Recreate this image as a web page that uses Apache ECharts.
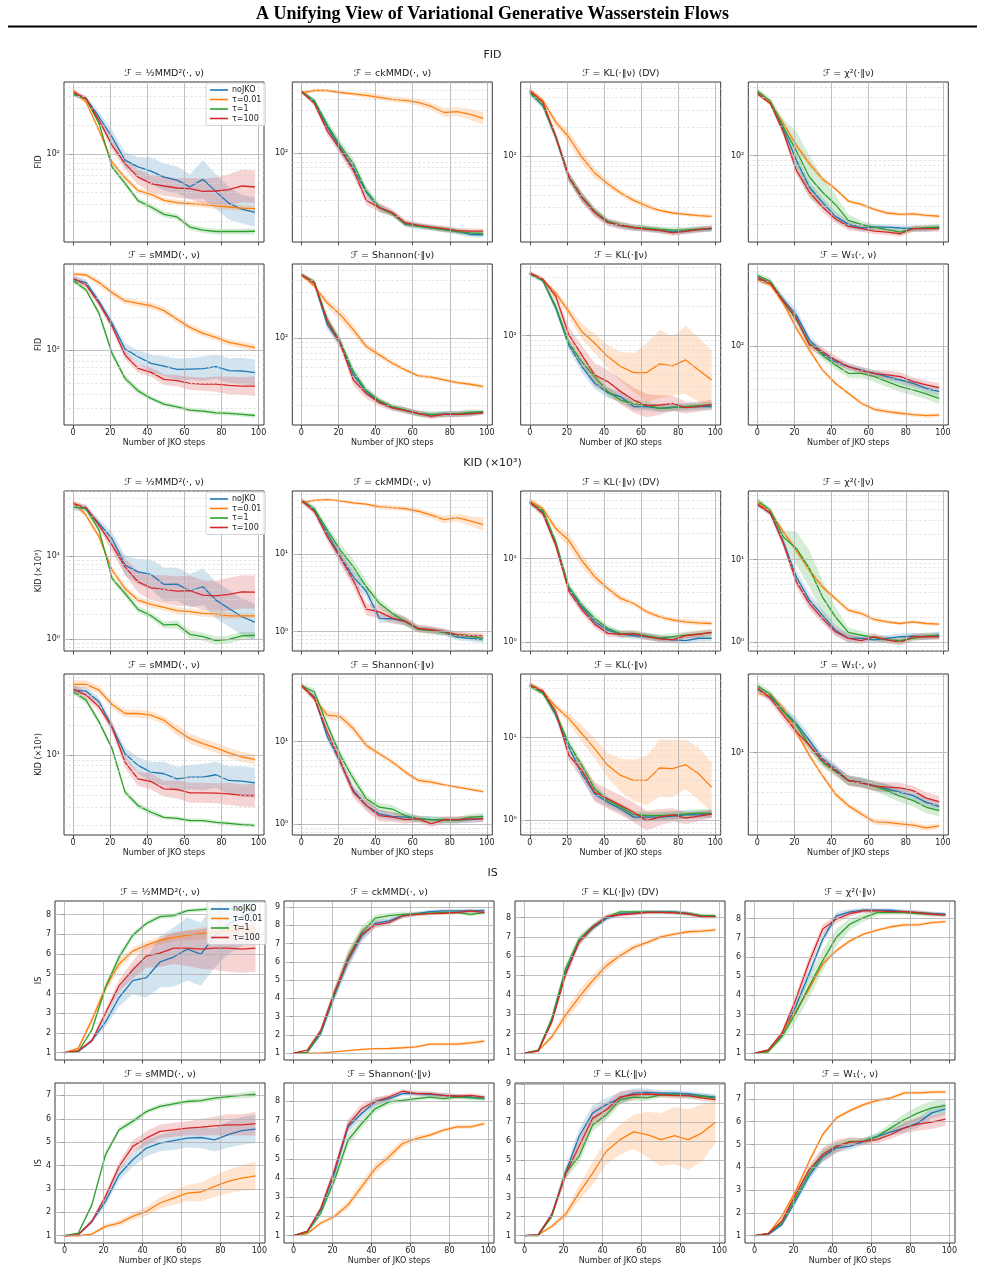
<!DOCTYPE html>
<html>
<head>
<meta charset="utf-8">
<script src="https://cdn.jsdelivr.net/npm/echarts@6/dist/echarts.min.js"></script>
<style>
  html, body { margin: 0; padding: 0; background: #fff; }
  #chart { width: 985px; height: 1272px; }
</style>
</head>
<body>
<div id="chart"></div>
<script>
// ---- shared ----
const steps = [0, 7, 14, 21, 28, 35, 42, 49, 56, 63, 70, 77, 84, 91, 98];
const runNames = ['noJKO', 'τ=0.01', 'τ=1', 'τ=100'];
const runColors = ['#1f77b4', '#ff7f0e', '#2ca02c', '#d62728'];
const bandColors = ['rgba(31,119,180,0.2)', 'rgba(255,127,14,0.2)', 'rgba(44,160,44,0.2)', 'rgba(214,39,40,0.2)'];
const panelTitles = [
  'ℱ = ½MMD²(·, ν)', 'ℱ = ckMMD(·, ν)', 'ℱ = KL(·‖ν) (DV)', 'ℱ = χ²(·‖ν)',
  'ℱ = sMMD(·, ν)', 'ℱ = Shannon(·‖ν)', 'ℱ = KL(·‖ν)', 'ℱ = W₁(·, ν)',
];
const xTicks = [0, 20, 40, 60, 80, 100];
const logMajor = [1, 10, 100];
const logMinor = [0.6, 0.7, 0.8, 0.9, 2, 3, 4, 5, 6, 7, 8, 9, 20, 30, 40, 50, 60, 70, 80, 90, 200, 300, 400, 500, 600];
const isTicks = [1, 2, 3, 4, 5, 6, 7, 8, 9];

// ---- FID (rows: noJKO, tau=0.01, tau=1, tau=100) ----
const fidMmd2 = [
  [427, 378, 244, 151, 87, 74, 67, 58, 54, 46, 55, 41, 31, 27, 25],
  [462, 349, 177, 83, 57, 42, 38.5, 33.3, 31.5, 30.7, 30, 29.1, 28.4, 27.7, 27.3],
  [420, 378, 208, 74, 50, 33, 28.4, 23.8, 22.4, 17.6, 16.3, 15.8, 15.8, 15.8, 15.9],
  [443, 378, 225, 124, 80, 58, 49.6, 46.9, 44.7, 44.1, 41.3, 41.6, 42.9, 46.9, 45.8],
];
const fidCk = [
  [483, 370, 195, 114, 68, 37, 25, 21.6, 16.4, 15.6, 14.9, 14.3, 13.6, 12.6, 12.5],
  [467, 496, 496, 471, 455, 439, 417, 396, 386, 366, 330, 283, 290, 270, 244],
  [483, 383, 205, 120, 77, 38, 25, 21.4, 16.6, 15.6, 14.9, 14.3, 13.6, 13.1, 12.9],
  [483, 357, 176, 110, 65, 30, 25, 22, 17, 16, 15.2, 14.6, 13.9, 13.7, 13.7],
];
const fidKlDv = [
  [451, 334, 158, 61.4, 38.2, 26.8, 21.1, 19.4, 18.5, 18.1, 17.4, 16.8, 17.2, 17.7, 17.9],
  [477, 376, 225, 158, 98.5, 67.4, 52.4, 42, 35.3, 30.9, 27.9, 26.2, 25.4, 24.6, 24.2],
  [451, 334, 158, 61.4, 38.5, 27.2, 21.5, 19.8, 18.6, 18.3, 17.8, 17.5, 17.6, 17.9, 18.2],
  [469, 361, 160, 62, 38, 26.5, 21, 19.6, 18.6, 17.8, 17.4, 16.4, 17, 17.7, 18.3],
];
const fidChi2 = [
  [443, 351, 189, 89.6, 47.7, 33.4, 23.8, 19.7, 18.2, 18.5, 18.5, 18.1, 17.8, 17.8, 18.5],
  [462, 351, 213, 128, 82.8, 58.1, 45.8, 34.2, 31.6, 28.1, 25.8, 25, 25.3, 24.4, 23.9],
  [462, 365, 197, 112, 60.4, 42.4, 31.6, 21.7, 19.7, 18.5, 17.4, 16.4, 17.8, 18.2, 18.5],
  [433, 342, 175, 70.7, 42.4, 29.7, 22.5, 18.8, 17.8, 16.8, 16.4, 15.8, 17.8, 17.8, 17.8],
];
const fidSmmd = [
  [443, 414, 278, 176, 103, 87.5, 76.1, 72, 67.1, 67.6, 68.1, 71, 65.3, 64.9, 62.6],
  [497, 486, 414, 336, 282, 268, 255, 230, 192, 162, 143, 131, 118, 112, 106],
  [432, 355, 217, 93.9, 55.6, 42.8, 36.5, 32.4, 30.6, 28.6, 28, 27, 26.7, 26.1, 25.5],
  [454, 394, 268, 167, 90.6, 68.5, 63, 54.4, 52.9, 50, 49.3, 49.3, 48, 47.3, 47.3],
];
const fidShannon = [
  [454, 372, 137, 88.7, 41.6, 27.9, 22, 19.1, 18, 16.6, 16, 16.4, 16.4, 16.6, 16.9],
  [454, 344, 231, 175, 122, 81.9, 67.1, 55, 46.9, 40.6, 39.4, 36.9, 34.6, 33.3, 31.5],
  [454, 380, 155, 90, 45.1, 28.5, 22.5, 19.5, 18, 16.4, 16.2, 16.2, 16.4, 17, 17.3],
  [454, 372, 149, 88, 36.9, 26.5, 21.5, 19, 17.8, 16.6, 15.5, 16.2, 16.2, 16.4, 16.8],
];
const fidKl = [
  [430, 367, 191, 80.1, 48.1, 32.4, 25.9, 23.6, 18.7, 18.7, 17.9, 18.4, 18.4, 18.7, 18.7],
  [437, 373, 272, 176, 110, 83.4, 60.8, 48.1, 41.7, 41.7, 51.2, 48.8, 56.2, 44.4, 35.1],
  [430, 367, 199, 83.4, 54.1, 37.9, 26.6, 21.8, 19.9, 19.4, 17.9, 18.2, 18.7, 19.1, 19.4],
  [437, 379, 252, 102, 63.3, 39.4, 33.7, 26.6, 21.8, 19.1, 19.4, 20.2, 18.2, 18.7, 19.7],
];
const fidW1 = [
  [419, 385, 269, 195, 115, 86, 72.1, 64.7, 60.3, 56.1, 52.2, 48.6, 45.3, 40.7, 37.9],
  [413, 371, 251, 147, 92.5, 60.3, 45.3, 36.6, 29.6, 26, 24.7, 23.9, 23.2, 22.7, 23],
  [453, 399, 260, 176, 107, 83.1, 67.1, 56.1, 56.1, 52.2, 47, 42.2, 39.3, 36.1, 32.9],
  [435, 385, 260, 182, 103, 89.2, 74.6, 64.7, 59.4, 56.1, 54.2, 52.2, 47, 43.7, 41.3],
];
// band half-widths, log10 units
const fidMmd2Sd = [
  [.03, .03, .05, .07, .08, .1, .14, .14, .14, .13, .2, .18, .17, .15, .15],
  [.03, .02, .02, .03, .03, .03, .03, .03, .03, .03, .03, .03, .03, .03, .03],
  [.02, .02, .02, .03, .03, .03, .03, .03, .03, .03, .03, .03, .03, .03, .03],
  [.03, .02, .03, .05, .06, .08, .09, .1, .1, .11, .13, .14, .16, .17, .17],
];
const fidCkSd = [
  [.02, .03, .05, .06, .06, .05, .04, .03, .03, .03, .03, .03, .03, .03, .03],
  [.02, .02, .02, .02, .02, .03, .03, .03, .03, .04, .04, .05, .05, .06, .07],
  [.02, .03, .05, .06, .06, .05, .04, .03, .03, .03, .03, .03, .03, .03, .03],
  [.02, .03, .05, .06, .06, .05, .05, .04, .04, .03, .03, .03, .03, .03, .03],
];
const fidKlDvSd = [
  [.03, .03, .04, .05, .05, .04, .03, .03, .03, .03, .03, .03, .03, .03, .03],
  [.03, .03, .04, .06, .07, .05, .04, .03, .03, .03, .02, .02, .02, .02, .02],
  [.03, .03, .04, .05, .05, .04, .03, .03, .03, .03, .03, .03, .03, .03, .03],
  [.03, .03, .04, .05, .05, .05, .04, .04, .03, .03, .03, .03, .03, .03, .03],
];
const fidChi2Sd = [
  [.02, .02, .04, .06, .06, .05, .05, .04, .04, .03, .03, .03, .03, .03, .03],
  [.02, .02, .03, .03, .03, .03, .02, .02, .02, .02, .02, .02, .02, .02, .02],
  [.03, .03, .08, .2, .22, .15, .1, .06, .04, .03, .03, .03, .03, .03, .03],
  [.02, .02, .04, .05, .05, .05, .04, .04, .03, .03, .03, .03, .03, .03, .03],
];
const fidSmmdSd = [
  [.03, .03, .03, .04, .05, .06, .08, .09, .1, .1, .11, .11, .11, .12, .12],
  [.02, .02, .03, .03, .03, .03, .03, .03, .03, .03, .03, .03, .03, .03, .03],
  [.02, .02, .03, .03, .03, .03, .02, .02, .02, .02, .02, .02, .02, .02, .02],
  [.03, .03, .03, .04, .04, .04, .04, .05, .05, .06, .06, .07, .08, .08, .09],
];
const fidShannonSd = [
  [.02, .03, .05, .05, .05, .04, .03, .03, .03, .03, .03, .03, .03, .03, .02],
  [.02, .02, .04, .06, .05, .04, .03, .03, .02, .02, .02, .02, .02, .02, .02],
  [.02, .03, .05, .05, .05, .04, .03, .03, .03, .03, .03, .03, .03, .03, .02],
  [.02, .03, .05, .05, .06, .05, .04, .03, .03, .03, .03, .03, .03, .03, .02],
];
const fidKlSd = [
  [.02, .02, .04, .05, .06, .06, .05, .05, .04, .04, .04, .04, .04, .04, .04],
  [.02, .02, .03, .05, .08, .1, .12, .15, .2, .3, .35, .3, .35, .33, .3],
  [.02, .02, .04, .05, .05, .05, .05, .04, .04, .04, .03, .03, .03, .03, .03],
  [.02, .02, .05, .08, .1, .12, .12, .13, .13, .12, .1, .08, .06, .05, .05],
];
const fidW1Sd = [
  [.03, .03, .04, .05, .04, .04, .03, .03, .03, .03, .03, .04, .04, .04, .04],
  [.02, .02, .03, .03, .03, .02, .02, .02, .02, .02, .02, .02, .02, .02, .02],
  [.03, .03, .04, .04, .04, .04, .04, .04, .04, .05, .05, .05, .05, .05, .05],
  [.02, .02, .03, .04, .04, .04, .04, .03, .03, .03, .04, .04, .04, .04, .04],
];
const fidRanges = [[12.3, 563], [10.4, 616], [13.2, 580], [13.0, 571], [20.9, 612], [12.6, 586], [12.1, 541], [18.6, 578]];

// ---- KID (x10^3) ----
const kidMmd2 = [
  [39.8, 37.3, 24.7, 16.3, 7.8, 6.49, 6.03, 4.57, 4.61, 3.84, 4.29, 2.96, 2.35, 1.87, 1.61],
  [44.9, 31, 17.1, 6.79, 4.09, 2.96, 2.63, 2.42, 2.21, 2.15, 2.05, 2.01, 1.92, 1.92, 1.92],
  [39.1, 37.3, 20.5, 5.4, 3.56, 2.29, 1.92, 1.49, 1.51, 1.15, 1.08, 0.964, 1.0, 1.1, 1.12],
  [42.9, 38.4, 23.5, 13.6, 7.45, 4.92, 4.17, 3.98, 3.8, 3.84, 3.4, 3.34, 3.47, 3.73, 3.7],
];
const kidCk = [
  [49.5, 36.9, 18.5, 9.25, 5.1, 3.3, 1.49, 1.47, 1.35, 1.1, 1.05, 0.98, 0.85, 0.82, 0.79],
  [46.3, 49.5, 50.6, 48.6, 45.8, 44.1, 40.7, 39.9, 38.7, 35.8, 31.8, 27.9, 29.6, 26.8, 24.1],
  [49.5, 38.5, 20.4, 11.3, 6.87, 3.8, 2.32, 1.73, 1.35, 1.07, 1.03, 0.98, 0.9, 0.87, 0.82],
  [49.5, 35.5, 16.7, 9.0, 4.6, 1.95, 1.8, 1.5, 1.37, 1.1, 1.06, 1.0, 0.92, 0.89, 0.89],
];
const kidKlDv = [
  [46.4, 35.9, 15.1, 4.4, 2.66, 1.76, 1.4, 1.26, 1.2, 1.17, 1.12, 1.07, 1.05, 1.12, 1.12],
  [49.4, 39.4, 22.8, 16.5, 9.55, 6.06, 4.4, 3.34, 2.91, 2.32, 2.02, 1.85, 1.76, 1.71, 1.68],
  [46.4, 37.6, 15.8, 4.6, 2.78, 1.93, 1.47, 1.26, 1.28, 1.2, 1.12, 1.17, 1.22, 1.26, 1.3],
  [47.3, 34.4, 14.4, 4.12, 2.47, 1.65, 1.28, 1.25, 1.26, 1.17, 1.1, 1.07, 1.2, 1.25, 1.32],
];
const kidChi2 = [
  [47.3, 35.8, 16.3, 6.18, 3.24, 2.13, 1.41, 1.12, 1.12, 1.07, 1.12, 1.17, 1.19, 1.17, 1.23],
  [48.7, 37.5, 21.5, 12.9, 7.43, 4.69, 3.39, 2.45, 2.23, 1.89, 1.77, 1.69, 1.77, 1.69, 1.66],
  [51.9, 39.3, 18.7, 13.6, 7.8, 3.55, 2.04, 1.32, 1.22, 1.14, 1.07, 1.05, 1.12, 1.2, 1.2],
  [46, 36.5, 15.6, 5.38, 2.95, 1.95, 1.35, 1.12, 1.05, 1.17, 1.07, 1.0, 1.17, 1.17, 1.17],
];
const kidSmmd = [
  [44.9, 43.9, 34.3, 19.2, 10.4, 7.94, 6.81, 6.55, 5.83, 6.06, 6.06, 6.4, 5.61, 5.52, 5.32],
  [51.2, 51.2, 44.9, 32.2, 26.2, 26.2, 25.2, 22.4, 17.8, 14.7, 13.1, 11.9, 10.6, 9.63, 9.12],
  [43.2, 35.6, 21.6, 11.7, 4.29, 3.15, 2.7, 2.4, 2.35, 2.23, 2.23, 2.14, 2.09, 2.03, 1.99],
  [45.9, 40, 30.5, 19.2, 8.57, 5.83, 5.48, 4.63, 4.56, 4.22, 4.22, 4.19, 4.12, 3.97, 3.97],
];
const kidShannon = [
  [47.4, 34.9, 11.4, 5.66, 2.57, 1.69, 1.34, 1.25, 1.22, 1.16, 1.14, 1.12, 1.12, 1.14, 1.18],
  [47.4, 33.3, 20.9, 20, 14.4, 9.02, 7.14, 5.66, 4.28, 3.39, 3.24, 3.0, 2.81, 2.64, 2.49],
  [47.4, 40.1, 15.8, 6.82, 3.56, 2.03, 1.61, 1.53, 1.27, 1.16, 1.14, 1.12, 1.12, 1.22, 1.25],
  [48.3, 33.3, 13.1, 5.66, 2.45, 1.69, 1.27, 1.22, 1.14, 1.16, 1.01, 1.14, 1.14, 1.16, 1.16],
];
const kidKl = [
  [43.5, 36.1, 18.7, 7.69, 3.64, 2.07, 1.64, 1.36, 1.08, 1.08, 1.08, 1.11, 1.15, 1.15, 1.18],
  [44.3, 36.7, 23.7, 17.1, 11.2, 7.35, 4.6, 3.47, 3.02, 3.02, 4.27, 4.19, 4.69, 3.64, 2.5],
  [42.7, 34.4, 19.6, 8.45, 4.6, 2.39, 1.72, 1.43, 1.16, 1.13, 1.13, 1.15, 1.18, 1.21, 1.21],
  [43.5, 36.7, 20.6, 6.1, 4.0, 2.17, 1.8, 1.5, 1.24, 0.98, 1.08, 1.15, 1.05, 1.11, 1.18],
];
const kidW1 = [
  [44.5, 37.2, 27.1, 19.8, 13.4, 8.69, 6.85, 5.21, 5.01, 4.63, 4.28, 3.95, 3.65, 3.12, 2.84],
  [40.2, 38.6, 28.3, 16.3, 9.4, 5.86, 3.8, 2.89, 2.37, 1.98, 1.95, 1.88, 1.83, 1.71, 1.8],
  [48.2, 39.3, 26.1, 19.1, 11.9, 8.02, 6.44, 5.21, 4.93, 4.56, 4.11, 3.6, 3.25, 2.78, 2.57],
  [45.9, 35.7, 24.1, 16.3, 11.9, 8.36, 6.6, 5.21, 4.93, 4.56, 4.45, 4.38, 4.11, 3.44, 3.18],
];
const kidMmd2Sd = [
  [.05, .04, .05, .08, .12, .15, .18, .2, .2, .2, .22, .22, .22, .22, .22],
  [.03, .03, .04, .04, .04, .04, .04, .04, .04, .04, .04, .04, .04, .03, .03],
  [.02, .03, .03, .04, .04, .04, .04, .04, .05, .05, .05, .05, .05, .05, .04],
  [.03, .03, .04, .08, .1, .13, .15, .17, .18, .18, .18, .18, .2, .2, .2],
];
const kidCkSd = [
  [.03, .04, .06, .08, .09, .08, .06, .05, .05, .04, .04, .04, .04, .04, .04],
  [.02, .02, .02, .02, .02, .02, .03, .03, .03, .04, .04, .05, .05, .06, .08],
  [.03, .04, .06, .08, .09, .08, .06, .05, .05, .04, .04, .04, .04, .04, .04],
  [.03, .04, .06, .08, .09, .08, .08, .07, .06, .05, .05, .04, .04, .04, .04],
];
const kidKlDvSd = [
  [.03, .04, .05, .05, .05, .05, .04, .04, .04, .04, .04, .04, .04, .04, .04],
  [.03, .04, .05, .08, .08, .06, .04, .04, .03, .03, .03, .03, .03, .03, .03],
  [.03, .04, .05, .05, .05, .05, .04, .04, .04, .04, .04, .04, .04, .04, .04],
  [.03, .04, .05, .05, .05, .05, .04, .04, .04, .04, .04, .04, .04, .04, .04],
];
const kidChi2Sd = [
  [.03, .03, .05, .08, .08, .07, .06, .05, .05, .04, .04, .04, .04, .04, .04],
  [.02, .02, .03, .04, .04, .03, .03, .03, .03, .03, .02, .02, .02, .02, .02],
  [.03, .03, .08, .2, .22, .2, .12, .06, .05, .04, .04, .04, .04, .04, .04],
  [.03, .03, .05, .07, .07, .06, .05, .05, .04, .04, .04, .04, .04, .04, .04],
];
const kidSmmdSd = [
  [.04, .04, .04, .05, .06, .08, .1, .12, .12, .12, .13, .13, .14, .15, .15],
  [.04, .04, .04, .04, .04, .04, .04, .04, .05, .05, .05, .05, .05, .05, .05],
  [.03, .03, .03, .03, .03, .03, .03, .02, .02, .02, .02, .02, .02, .02, .02],
  [.04, .04, .04, .05, .06, .07, .08, .08, .09, .1, .1, .1, .11, .11, .12],
];
const kidShannonSd = [
  [.03, .04, .05, .06, .06, .05, .05, .05, .05, .04, .04, .04, .04, .04, .04],
  [.02, .03, .05, .05, .05, .04, .03, .03, .03, .03, .03, .02, .02, .02, .02],
  [.03, .04, .05, .06, .06, .05, .05, .05, .05, .04, .04, .04, .04, .04, .04],
  [.03, .04, .05, .06, .07, .07, .07, .06, .05, .04, .04, .04, .04, .04, .04],
];
const kidKlSd = [
  [.03, .03, .05, .06, .07, .07, .06, .05, .05, .05, .05, .05, .05, .05, .05],
  [.03, .03, .04, .06, .1, .12, .15, .2, .25, .3, .35, .35, .3, .32, .3],
  [.03, .03, .05, .06, .06, .06, .05, .05, .05, .05, .05, .05, .05, .05, .05],
  [.03, .03, .05, .07, .1, .12, .12, .12, .12, .12, .1, .08, .07, .06, .05],
];
const kidW1Sd = [
  [.04, .04, .05, .06, .06, .05, .05, .05, .05, .05, .05, .05, .05, .05, .05],
  [.03, .03, .03, .03, .03, .03, .03, .03, .03, .03, .03, .03, .03, .03, .03],
  [.04, .04, .05, .05, .05, .05, .05, .05, .05, .05, .06, .06, .06, .06, .06],
  [.03, .04, .05, .05, .05, .05, .05, .05, .05, .05, .05, .05, .05, .06, .06],
];
const kidRanges = [[0.724, 60.8], [0.564, 65.3], [0.789, 64], [0.787, 67.1], [1.6, 65], [0.742, 65.8], [0.656, 59.2], [1.45, 63.4]];

// ---- IS ----
const isMmd2 = [
  [1, 1.05, 1.62, 2.55, 3.8, 4.65, 4.8, 5.6, 5.85, 6.25, 6.0, 6.9, 7.5, 7.9, 8.2],
  [1, 1.22, 2.65, 4.3, 5.5, 6.15, 6.45, 6.7, 6.85, 6.95, 7.05, 7.1, 7.2, 7.25, 7.3],
  [1, 1.05, 2.15, 4.3, 5.85, 6.95, 7.55, 7.9, 7.95, 8.2, 8.25, 8.3, 8.3, 8.3, 8.28],
  [1, 1.1, 1.6, 3.0, 4.4, 5.2, 5.9, 6.05, 6.3, 6.3, 6.25, 6.3, 6.3, 6.25, 6.3],
];
const isCk = [
  [1, 1.04, 2.07, 4.16, 6.06, 7.42, 8.1, 8.24, 8.51, 8.64, 8.75, 8.79, 8.79, 8.79, 8.82],
  [1, 1, 1, 1.07, 1.13, 1.2, 1.24, 1.25, 1.29, 1.34, 1.49, 1.49, 1.49, 1.56, 1.65],
  [1, 1.02, 2.16, 4.25, 6.24, 7.61, 8.39, 8.53, 8.6, 8.62, 8.66, 8.7, 8.7, 8.6, 8.7],
  [1, 1.16, 2.25, 4.34, 6.15, 7.52, 8.02, 8.15, 8.51, 8.6, 8.64, 8.66, 8.7, 8.79, 8.7],
];
const isKlDv = [
  [1, 1.12, 2.7, 5.18, 6.75, 7.45, 7.95, 8.2, 8.25, 8.3, 8.3, 8.3, 8.22, 8.08, 8.05],
  [1, 1.12, 1.84, 2.95, 3.89, 4.75, 5.52, 6.03, 6.46, 6.72, 7.01, 7.15, 7.27, 7.3, 7.37],
  [1, 1.15, 2.8, 5.35, 6.9, 7.55, 8.02, 8.3, 8.3, 8.28, 8.28, 8.27, 8.2, 8.1, 8.1],
  [1, 1.1, 2.6, 5.05, 6.75, 7.5, 8.05, 8.15, 8.2, 8.27, 8.27, 8.25, 8.2, 8.05, 8.05],
];
const isChi2 = [
  [1, 1.12, 1.93, 3.4, 5.12, 6.93, 8.14, 8.34, 8.43, 8.43, 8.43, 8.36, 8.31, 8.26, 8.22],
  [1, 1.07, 2.02, 3.14, 4.34, 5.64, 6.33, 6.84, 7.19, 7.4, 7.57, 7.67, 7.67, 7.79, 7.84],
  [1, 1.07, 1.84, 3.05, 4.47, 5.81, 7.02, 7.71, 8.05, 8.31, 8.31, 8.31, 8.26, 8.22, 8.19],
  [1, 1.16, 2.02, 3.74, 5.72, 7.45, 7.97, 8.26, 8.4, 8.4, 8.36, 8.36, 8.31, 8.22, 8.19],
];
const isSmmd = [
  [1, 1.04, 1.61, 2.47, 3.61, 4.25, 4.75, 4.96, 5.07, 5.17, 5.2, 5.1, 5.32, 5.49, 5.56],
  [1, 1, 1.07, 1.4, 1.54, 1.83, 2.04, 2.4, 2.61, 2.82, 2.87, 3.11, 3.32, 3.46, 3.56],
  [1, 1.11, 2.32, 4.46, 5.53, 5.89, 6.31, 6.53, 6.64, 6.74, 6.78, 6.88, 6.95, 7.0, 7.05],
  [1, 1.04, 1.61, 2.68, 3.96, 4.82, 5.17, 5.46, 5.53, 5.6, 5.64, 5.7, 5.74, 5.74, 5.79],
];
const isShannon = [
  [1, 1.22, 2.35, 4.25, 6.67, 7.36, 7.97, 8.14, 8.4, 8.4, 8.36, 8.31, 8.26, 8.22, 8.14],
  [1, 1.1, 1.66, 2.0, 2.61, 3.56, 4.51, 5.11, 5.8, 6.06, 6.24, 6.5, 6.67, 6.67, 6.84],
  [1, 1.17, 2.18, 3.9, 5.98, 6.84, 7.62, 7.97, 8.05, 8.14, 8.22, 8.14, 8.22, 8.19, 8.14],
  [1, 1.22, 2.43, 4.42, 6.76, 7.62, 8.0, 8.22, 8.52, 8.4, 8.4, 8.31, 8.26, 8.31, 8.22],
];
const isKl = [
  [1, 1.05, 2.11, 4.3, 6.24, 7.47, 7.91, 8.26, 8.52, 8.56, 8.52, 8.52, 8.47, 8.38, 8.31],
  [1, 1.04, 1.49, 2.11, 3.25, 4.3, 5.45, 6.06, 6.47, 6.33, 6.06, 6.27, 6.06, 6.41, 6.98],
  [1, 1.0, 2.02, 4.3, 5.18, 6.85, 7.38, 8.17, 8.31, 8.26, 8.43, 8.43, 8.38, 8.35, 8.26],
  [1, 1.04, 2.11, 4.22, 5.71, 7.2, 7.64, 8.31, 8.43, 8.47, 8.43, 8.38, 8.38, 8.26, 8.17],
];
const isW1 = [
  [1, 1.04, 1.48, 2.51, 3.61, 4.46, 4.85, 4.92, 5.14, 5.36, 5.55, 5.73, 5.95, 6.39, 6.56],
  [1, 1.09, 1.85, 2.95, 4.26, 5.44, 6.17, 6.49, 6.75, 6.94, 7.05, 7.27, 7.27, 7.3, 7.31],
  [1, 1.09, 1.56, 2.65, 3.75, 4.56, 4.92, 5.14, 5.14, 5.36, 5.73, 6.1, 6.39, 6.61, 6.71],
  [1, 1.09, 1.63, 2.8, 3.9, 4.56, 4.92, 5.11, 5.14, 5.22, 5.44, 5.73, 5.9, 5.98, 6.12],
];
// band half-widths, IS units
const isMmd2Sd = [
  [.02, .05, .12, .25, .45, .7, 1.0, 1.3, 1.5, 1.6, 1.6, 1.6, 1.5, 1.5, 1.5],
  [.02, .08, .2, .25, .25, .2, .2, .2, .2, .25, .3, .3, .3, .3, .3],
  [.02, .04, .1, .2, .2, .15, .12, .12, .12, .1, .1, .1, .1, .1, .1],
  [.02, .04, .1, .2, .3, .45, .6, .7, .8, .9, 1.0, 1.1, 1.2, 1.2, 1.2],
];
const isCkSd = [
  [.02, .05, .15, .3, .4, .35, .2, .15, .12, .1, .1, .1, .1, .1, .1],
  [.02, .02, .02, .03, .04, .05, .05, .05, .06, .07, .08, .08, .1, .1, .12],
  [.02, .05, .15, .3, .4, .35, .2, .15, .15, .12, .1, .1, .1, .1, .1],
  [.02, .05, .15, .3, .4, .3, .2, .15, .12, .1, .1, .1, .1, .1, .1],
];
const isKlDvSd = [
  [.02, .05, .15, .25, .2, .15, .12, .1, .1, .1, .1, .1, .1, .1, .1],
  [.02, .05, .15, .3, .35, .3, .25, .2, .15, .12, .1, .1, .1, .1, .1],
  [.02, .05, .15, .25, .2, .15, .12, .1, .1, .1, .1, .1, .1, .1, .1],
  [.02, .05, .15, .25, .2, .15, .12, .1, .1, .1, .1, .1, .1, .1, .1],
];
const isChi2Sd = [
  [.02, .05, .15, .25, .3, .25, .2, .15, .12, .1, .1, .1, .1, .1, .1],
  [.02, .04, .1, .15, .15, .12, .1, .1, .08, .08, .08, .08, .08, .08, .08],
  [.02, .05, .2, .45, .6, .55, .45, .3, .2, .15, .1, .1, .1, .1, .1],
  [.02, .05, .15, .25, .3, .25, .2, .15, .12, .1, .1, .1, .1, .1, .1],
];
const isSmmdSd = [
  [.02, .03, .1, .2, .25, .3, .35, .35, .4, .4, .45, .5, .55, .6, .6],
  [.02, .02, .05, .1, .12, .15, .2, .25, .3, .35, .4, .45, .5, .55, .6],
  [.02, .03, .1, .15, .12, .12, .1, .1, .1, .1, .1, .1, .1, .12, .15],
  [.02, .03, .1, .15, .2, .25, .3, .3, .3, .3, .35, .4, .45, .45, .5],
];
const isShannonSd = [
  [.02, .05, .15, .25, .3, .25, .2, .15, .12, .12, .12, .12, .12, .12, .12],
  [.02, .05, .1, .15, .2, .25, .25, .25, .2, .15, .12, .1, .1, .1, .1],
  [.02, .05, .15, .25, .3, .25, .2, .15, .12, .12, .12, .12, .12, .12, .12],
  [.02, .05, .15, .25, .3, .25, .2, .15, .12, .12, .12, .12, .1, .1, .1],
];
const isKlSd = [
  [.02, .05, .15, .3, .4, .4, .35, .3, .25, .2, .15, .15, .15, .15, .15],
  [.02, .05, .1, .2, .4, .6, .7, .8, .9, 1.2, 1.4, 1.5, 1.6, 1.5, 1.1],
  [.02, .05, .15, .3, .35, .35, .3, .25, .2, .15, .15, .15, .15, .15, .15],
  [.02, .05, .15, .3, .4, .45, .4, .3, .25, .2, .15, .15, .15, .15, .15],
];
const isW1Sd = [
  [.02, .04, .1, .15, .2, .25, .2, .15, .15, .15, .15, .2, .2, .25, .25],
  [.02, .04, .08, .1, .1, .1, .08, .08, .08, .08, .08, .08, .08, .08, .08],
  [.02, .04, .1, .15, .2, .25, .2, .15, .15, .15, .2, .25, .3, .3, .3],
  [.02, .04, .1, .15, .2, .3, .3, .2, .15, .15, .2, .25, .3, .3, .3],
];
const isRanges = [[0.63, 8.69], [0.62, 9.33], [0.64, 8.86], [0.64, 8.91], [0.69, 7.53], [0.62, 8.95], [0.61, 9.05], [0.68, 7.7]];

// ---- layout ----
const FONT = '"DejaVu Sans", Verdana, sans-serif';
const INK = '#222';
const colLeftLog = [64, 292.3, 520.7, 748.3];
const colLeftIS = [55, 284, 515, 745];

const metrics = [
  { label: 'FID', section: 'FID', sectionY: 55, log: true, tops: [82, 264], heights: [160, 161],
    means: [fidMmd2, fidCk, fidKlDv, fidChi2, fidSmmd, fidShannon, fidKl, fidW1],
    sds: [fidMmd2Sd, fidCkSd, fidKlDvSd, fidChi2Sd, fidSmmdSd, fidShannonSd, fidKlSd, fidW1Sd],
    ranges: fidRanges, lefts: colLeftLog, width: 200, legendTop: 83 },
  { label: 'KID (×10³)', section: 'KID (×10³)', sectionY: 463, log: true, tops: [491, 674], heights: [160, 161],
    means: [kidMmd2, kidCk, kidKlDv, kidChi2, kidSmmd, kidShannon, kidKl, kidW1],
    sds: [kidMmd2Sd, kidCkSd, kidKlDvSd, kidChi2Sd, kidSmmdSd, kidShannonSd, kidKlSd, kidW1Sd],
    ranges: kidRanges, lefts: colLeftLog, width: 200, legendTop: 492 },
  { label: 'IS', section: 'IS', sectionY: 873, log: false, tops: [901, 1083], heights: [159, 160],
    means: [isMmd2, isCk, isKlDv, isChi2, isSmmd, isShannon, isKl, isW1],
    sds: [isMmd2Sd, isCkSd, isKlDvSd, isChi2Sd, isSmmdSd, isShannonSd, isKlSd, isW1Sd],
    ranges: isRanges, lefts: colLeftIS, width: 210, legendTop: 902 },
];

const supers = { '-1': '⁻¹', '0': '⁰', '1': '¹', '2': '²', '3': '³' };
const majorLine = { color: '#b0b0b0', width: 0.8, type: 'solid' };
const minorLine = { color: '#d8d8d8', width: 0.7, type: [2.5, 2] };

const grids = [], xAxes = [], yAxes = [], series = [], legends = [];
const graphics = [
  { type: 'text', x: 492.5, y: 14, style: { text: 'A Unifying View of Variational Generative Wasserstein Flows',
    font: 'bold 18px "Liberation Serif", "DejaVu Serif", serif', fill: '#000', textAlign: 'center', textVerticalAlign: 'middle' } },
  { type: 'rect', shape: { x: 8, y: 25.5, width: 969, height: 2 }, style: { fill: '#000' } },
];

metrics.forEach((m) => {
  graphics.push({ type: 'text', x: 492.5, y: m.sectionY, style: { text: m.section, font: '11px ' + FONT,
    fill: INK, textAlign: 'center', textVerticalAlign: 'middle' } });
  for (let p = 0; p < 8; p++) {
    const row = Math.floor(p / 4), col = p % 4;
    const gi = grids.length;
    const left = m.lefts[col], top = m.tops[row], width = m.width, height = m.heights[row];
    const range = m.ranges[p];
    grids.push({ left, top, width, height, show: true, borderColor: INK, borderWidth: 0.9,
      backgroundColor: 'transparent', containLabel: false });
    xAxes.push({
      gridIndex: gi, type: 'value', min: -4.9, max: 102.9,
      axisLine: { show: false }, splitLine: { show: false },
      axisTick: { show: true, customValues: xTicks, length: 3.5, lineStyle: { color: INK, width: 0.8 } },
      axisLabel: { show: row === 1, customValues: xTicks, fontSize: 8, color: INK, fontFamily: FONT, margin: 4 },
    });
    const inRange = (v) => v >= range[0] && v <= range[1];
    let majors, minors;
    if (m.log) {
      majors = logMajor.filter(inRange);
      minors = logMinor.filter(inRange);
      yAxes.push({
        gridIndex: gi, type: 'log', logBase: 10, min: range[0], max: range[1],
        axisLine: { show: false }, splitLine: { show: false }, minorTick: { show: false },
        axisTick: { show: true, customValues: majors, length: 3.5, lineStyle: { color: INK, width: 0.8 } },
        axisLabel: { show: true, customValues: majors, fontSize: 8, color: INK, fontFamily: FONT, margin: 4,
          formatter: (v) => '10' + supers[String(Math.round(Math.log10(v)))] },
      });
    } else {
      majors = isTicks.filter(inRange);
      minors = [];
      yAxes.push({
        gridIndex: gi, type: 'value', min: range[0], max: range[1],
        axisLine: { show: false }, splitLine: { show: false },
        axisTick: { show: true, customValues: majors, length: 3.5, lineStyle: { color: INK, width: 0.8 } },
        axisLabel: { show: true, customValues: majors, fontSize: 8, color: INK, fontFamily: FONT, margin: 4 },
      });
    }
    // grid lines drawn through the axes
    series.push({
      type: 'line', xAxisIndex: gi, yAxisIndex: gi, data: [], silent: true, z: 1, animation: false,
      markLine: {
        silent: true, symbol: ['none', 'none'], label: { show: false }, animation: false,
        data: [
          ...minors.map((v) => ({ yAxis: v, lineStyle: minorLine })),
          ...majors.map((v) => ({ yAxis: v, lineStyle: majorLine })),
          ...xTicks.map((v) => ({ xAxis: v, lineStyle: majorLine })),
        ],
      },
    });
    // bands
    const means = m.means[p], sds = m.sds[p];
    for (let k = 0; k < 4; k++) {
      const mean = means[k], sd = sds[k];
      const lo = mean.map((v, i) => (m.log ? v / Math.pow(10, sd[i]) : v - sd[i]));
      const hi = mean.map((v, i) => (m.log ? v * Math.pow(10, sd[i]) : v + sd[i]));
      series.push({
        type: 'custom', xAxisIndex: gi, yAxisIndex: gi, silent: true, z: 2, clip: true, animation: false,
        data: [[steps[0], mean[0]]],
        renderItem: (params, api) => {
          const pts = [];
          steps.forEach((x, i) => pts.push(api.coord([x, hi[i]])));
          for (let i = steps.length - 1; i >= 0; i--) pts.push(api.coord([steps[i], lo[i]]));
          return { type: 'polygon', shape: { points: pts }, style: { fill: bandColors[k] } };
        },
      });
    }
    // mean curves
    for (let k = 0; k < 4; k++) {
      series.push({
        type: 'line', name: runNames[k], xAxisIndex: gi, yAxisIndex: gi,
        data: steps.map((x, i) => [x, means[k][i]]),
        showSymbol: false, symbol: 'none', clip: true, animation: false, z: 3,
        lineStyle: { color: runColors[k], width: 1.3 }, itemStyle: { color: runColors[k] },
      });
    }
    // titles and axis names
    graphics.push({ type: 'text', x: left + width / 2, y: top - 8, style: { text: panelTitles[p],
      font: '9.5px ' + FONT, fill: INK, textAlign: 'center', textVerticalAlign: 'middle' } });
    if (col === 0) {
      graphics.push({ type: 'text', x: 39, y: top + height / 2, rotation: Math.PI / 2, style: { text: m.label,
        font: '8px ' + FONT, fill: INK, textAlign: 'center', textVerticalAlign: 'middle' } });
    }
    if (row === 1) {
      graphics.push({ type: 'text', x: left + width / 2, y: top + height + 18, style: { text: 'Number of JKO steps',
        font: '8px ' + FONT, fill: INK, textAlign: 'center', textVerticalAlign: 'middle' } });
    }
  }
  legends.push({
    left: m.lefts[0] + m.width - 58, top: m.legendTop, orient: 'vertical', data: runNames,
    icon: 'rect', itemWidth: 18, itemHeight: 1.6, itemGap: 1.5, selectedMode: false,
    textStyle: { fontSize: 8, color: INK, fontFamily: FONT, padding: [0, 0, 0, -1] },
    backgroundColor: 'rgba(255,255,255,0.8)', borderColor: '#cccccc', borderWidth: 0.8, borderRadius: 2,
    padding: [3, 4, 3, 4], z: 10,
  });
});

const chart = echarts.init(document.getElementById('chart'), null, { renderer: 'canvas' });
chart.setOption({
  backgroundColor: '#ffffff',
  animation: false,
  grid: grids,
  xAxis: xAxes,
  yAxis: yAxes,
  legend: legends,
  series: series,
  graphic: graphics,
});
</script>
</body>
</html>
